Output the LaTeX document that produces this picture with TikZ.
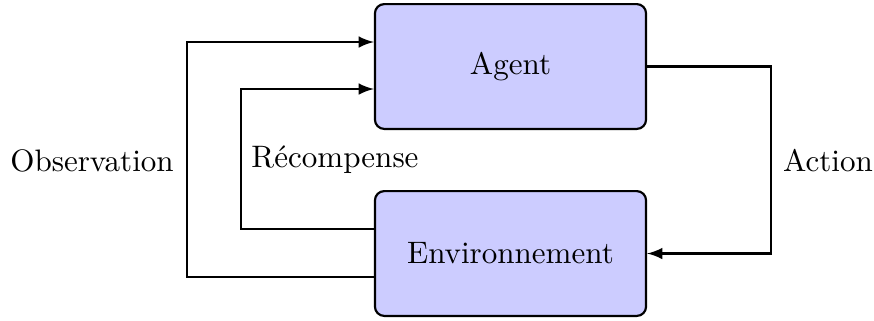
\documentclass[tikz,border=0pt]{standalone}
\usepackage{fontspec}
\usetikzlibrary{arrows}
\begin{document}
\begin{tikzpicture}[x=0.322pt,y=-0.322pt,
  box/.style={draw=black,line width=0.7pt,fill=blue!20,rounded corners=3pt,
    minimum width=87.3pt,minimum height=40.2pt,inner sep=0pt},
  conn/.style={draw=black,line width=0.7pt},
  arr/.style={conn,-latex},
  lbl/.style={inner sep=0pt}]
\useasboundingbox (0,0) rectangle (874,320);
\node[box] (agent) at (510.5,66.5) {Agent};
\node[box] (env) at (510.5,253.5) {Environnement};
\coordinate (ob1) at (187,277);
\coordinate (ob2) at (187,42);
\coordinate (re1) at (241,229);
\coordinate (re2) at (241,89);
\coordinate (ac1) at (771,66.5);
\coordinate (ac2) at (771,253.5);
\draw[arr] (env.west |- ob1) -- (ob1) -- (ob2) -- (agent.west |- ob2);
\draw[arr] (env.west |- re1) -- (re1) -- (re2) -- (agent.west |- re2);
\draw[arr] (agent.east) -- (ac1) -- (ac2) -- (env.east);
\node[lbl] (obs) at (92,161) {Observation};
\node[lbl] (rec) at (335,160) {Récompense};
\node[lbl] (act) at (828,161) {Action};
\end{tikzpicture}
\end{document}
